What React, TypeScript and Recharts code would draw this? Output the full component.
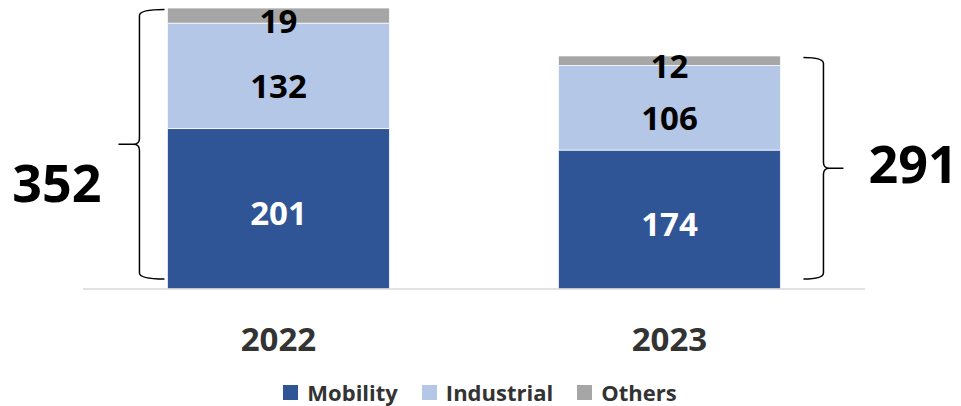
import { BarChart, Bar, XAxis, YAxis, Legend, LabelList, Rectangle } from "recharts";

const categories = ["2022", "2023"];
const mobility = [201, 174];
const industrial = [132, 106];
const others = [19, 12];
const totals = [352, 291];

const series = [
  { key: "mobility", name: "Mobility", color: "#2F5597", text: "#FFFFFF", dy: 4 },
  { key: "industrial", name: "Industrial", color: "#B4C7E7", text: "#000000", dy: 10 },
  { key: "others", name: "Others", color: "#A6A6A6", text: "#000000", dy: 5 },
];

const data = categories.map((c, i) => ({
  year: c,
  mobility: mobility[i],
  industrial: industrial[i],
  others: others[i],
  total: totals[i],
}));

const FONT = "'Open Sans', 'DejaVu Sans', sans-serif";

function bracePath(armX: number, vx: number, tipX: number, top: number, bottom: number) {
  const mid = (top + bottom) / 2;
  const dir = tipX < vx ? -1 : 1;
  const r = 6;
  return [
    `M ${armX} ${top}`,
    `Q ${vx} ${top} ${vx} ${top + r}`,
    `L ${vx} ${mid - r}`,
    `Q ${vx} ${mid} ${vx + dir * r} ${mid}`,
    `L ${tipX} ${mid}`,
    `M ${vx + dir * r} ${mid}`,
    `Q ${vx} ${mid} ${vx} ${mid + r}`,
    `L ${vx} ${bottom - r}`,
    `Q ${vx} ${bottom} ${armX} ${bottom}`,
  ].join(" ");
}

// bottom segment draws the bar plus the brace and total for the whole stack
function MobilityShape(props: any) {
  const { x, y, width, height, payload, index, fill } = props;
  const unit = height / payload.mobility;
  const stack = payload.mobility + payload.industrial + payload.others;
  const bottom = y + height;
  const top = bottom - stack * unit;
  const bTop = top + 1.5;
  const bBottom = bottom - 10;
  const mid = (bTop + bBottom) / 2;
  const left = index === 0;
  const armX = left ? x - 3 : x + width + 23;
  const vx = left ? x - 28 : x + width + 43;
  const tipX = left ? x - 49 : x + width + 63;
  return (
    <g>
      <Rectangle x={x} y={y} width={width} height={height} fill={fill} stroke="#ffffff" strokeWidth={0.75} />
      <path d={bracePath(armX, vx, tipX, bTop, bBottom)} fill="none" stroke="#000" strokeWidth={1.5} />
      <text
        x={left ? tipX - 17 : tipX + 25}
        y={left ? mid + 58 : mid + 15}
        textAnchor={left ? "end" : "start"}
        fontFamily={FONT}
        fontWeight={700}
        fontSize={52}
        fill="#000"
      >
        {payload.total}
      </text>
    </g>
  );
}

function valueLabel(color: string, dy: number) {
  return (props: any) => {
    const { x, y, width, height, value } = props;
    return (
      <text
        x={x + width / 2}
        y={y + height / 2 + dy}
        textAnchor="middle"
        dominantBaseline="central"
        fontFamily={FONT}
        fontWeight={700}
        fontSize={33}
        fill={color}
      >
        {value}
      </text>
    );
  };
}

function YearTick(props: any) {
  const { x, y, payload } = props;
  return (
    <text x={x} y={y + 60} textAnchor="middle" fontFamily={FONT} fontWeight={700} fontSize={33} fill="#333333">
      {payload.value}
    </text>
  );
}

function LegendBox() {
  return (
    <div
      style={{
        display: "flex",
        justifyContent: "center",
        alignItems: "center",
        height: 28,
        paddingLeft: 12,
        fontFamily: FONT,
        fontWeight: 700,
        fontSize: 22,
        color: "#333333",
      }}
    >
      {series.map((s) => (
        <div key={s.key} style={{ display: "flex", alignItems: "center", margin: "0 12px" }}>
          <span style={{ width: 15, height: 15, background: s.color, marginRight: 9, display: "inline-block" }} />
          <span>{s.name}</span>
        </div>
      ))}
    </div>
  );
}

export default function App() {
  return (
    <div style={{ position: "absolute", left: 0, top: 0, width: 961, height: 406, background: "#fff" }}>
      <BarChart
        width={961}
        height={406}
        data={data}
        margin={{ top: 8, right: 96, left: 83, bottom: 0 }}
        barCategoryGap="21.6%"
      >
        <XAxis
          dataKey="year"
          height={89}
          tickLine={false}
          tickSize={0}
          axisLine={{ stroke: "#D9D9D9", strokeWidth: 1.5 }}
          tick={<YearTick />}
          interval={0}
        />
        <YAxis hide domain={[0, 352]} />
        <Legend verticalAlign="bottom" height={28} content={<LegendBox />} />
        {series.map((s) => (
          <Bar
            key={s.key}
            dataKey={s.key}
            name={s.name}
            stackId="a"
            fill={s.color}
            stroke="#ffffff"
            strokeWidth={0.75}
            isAnimationActive={false}
            shape={s.key === "mobility" ? <MobilityShape /> : undefined}
          >
            <LabelList dataKey={s.key} content={valueLabel(s.text, s.dy)} />
          </Bar>
        ))}
      </BarChart>
    </div>
  );
}
